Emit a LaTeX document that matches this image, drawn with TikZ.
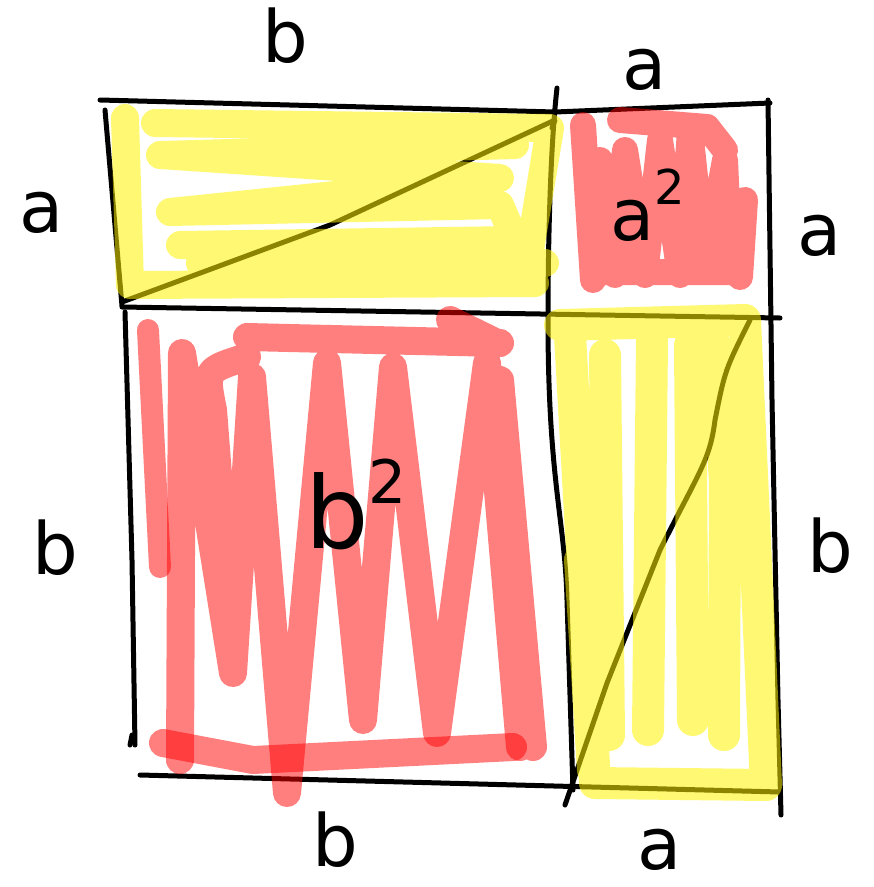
\documentclass[tikz,border=0pt]{standalone}
\usepackage{fontspec}
\setmainfont{DejaVu Sans}
\tikzset{
  yelstroke/.style={draw=yellow,draw opacity=0.55,line width=28pt,line cap=round,line join=round},
  redstroke/.style={draw=red,draw opacity=0.5,line width=28pt,line cap=round,line join=round},
  pen/.style={draw=black,line width=5pt,line cap=round,line join=round},
  lbl/.style={font=\fontsize{72}{72}\selectfont,inner sep=0pt},
}
\newcommand{\supnum}[1]{\raisebox{0.5em}{\fontsize{48}{48}\selectfont #1}}
\begin{document}
\begin{tikzpicture}[x=1pt,y=-1pt]
\useasboundingbox (0,0) rectangle (874,887);
% black pen lines
\coordinate (tl) at (100,100);
\coordinate (tm) at (555,112);
\coordinate (tr) at (770,103);
\draw[pen] (tl) -- (tm) -- (tr);
\draw[pen] (557,88) .. controls (550,150) and (548,250) .. (548,320) .. controls (548,480) and (565,520) .. (567,600) -- (573,790);
\draw[pen] (105,110) -- (122,306);
\draw[pen] (122,307) -- (780,318);
\draw[pen] (125,312) -- (132,560) -- (135,745);
\draw[pen] (132,735) -- (130,745);
\draw[pen] (140,775) -- (780,792);
\draw[pen] (768,100) -- (772,400) -- (778,700) -- (781,815);
\draw[pen] (122,302) -- (330,225) -- (555,120) -- (552,128);
\draw[pen] (565,805) -- (607,683) -- (660,550) .. controls (700,470) and (710,460) .. (715,420) .. controls (725,370) .. (750,320);
% yellow top-left
\draw[yelstroke] (125,118) -- (130,285) -- (535,283)
  (155,123) -- (550,128) -- (525,280)
  (515,145) -- (160,155) -- (500,178) -- (170,212) -- (500,205) -- (515,240) -- (180,245) -- (500,250)
  (200,263) -- (545,263);
% red top-right
\draw[redstroke,line width=26pt] (583,125) -- (593,280) -- (600,160) -- (615,275) -- (625,150) -- (645,275) -- (660,140) -- (680,275) -- (690,130) -- (705,270) -- (725,160) -- (730,270) -- (745,200) -- (740,277)
  (620,120) -- (707,127) -- (725,150)
  (593,272) -- (740,272);
% red big
\draw[redstroke,line width=22pt] (148,330) -- (160,567);
\draw[redstroke] (180,760) -- (182,353) -- (233,673) -- (252,377) -- (287,793) -- (327,363) -- (363,720) -- (393,367) -- (437,733) -- (487,363) -- (520,747)
  (500,380) -- (533,747)
  (213,410) .. controls (205,370) .. (247,357)
  (213,410) -- (233,670)
  (247,337) -- (500,343)
  (450,320) -- (497,343);
\draw[redstroke] (163,743) -- (253,760) -- (513,747);
% yellow bottom-right
\draw[yelstroke,line width=32pt] (560,325) -- (745,320) -- (766,785) -- (595,783) -- (570,335)
  (605,355) -- (609,735)
  (652,340) -- (648,730)
  (690,345) -- (693,720)
  (715,345) -- (725,480) -- (724,735)
  (580,560) -- (593,770);
% labels
\node[lbl] (lb1) at (285,36) {b};
\node[lbl] (la1) at (645,70) {a};
\node[lbl] (la2) at (42,213) {a};
\node[lbl] (la3) at (820,236) {a};
\node[lbl] (lb2) at (55,548) {b};
\node[lbl] (lb3) at (830,546) {b};
\node[lbl] (lb4) at (335,840) {b};
\node[lbl] (la4) at (660,850) {a};
\node[lbl,anchor=base west] (asq) at (610,240) {a\supnum{2}};
\node[lbl,font=\fontsize{100}{100}\selectfont,anchor=base west] (bsq) at (305,548) {b\raisebox{0.45em}{\fontsize{60}{60}\selectfont 2}};
\end{tikzpicture}
\end{document}
